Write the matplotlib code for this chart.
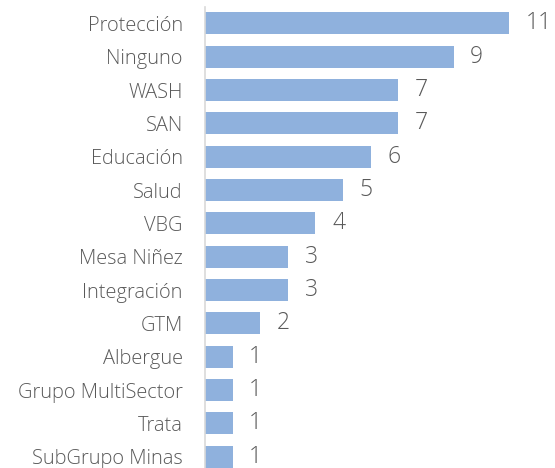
import matplotlib
matplotlib.use("Agg")
import matplotlib.pyplot as plt

categories = ["Protección", "Ninguno", "WASH", "SAN", "Educación", "Salud", "VBG",
              "Mesa Niñez", "Integración", "GTM", "Albergue", "Grupo MultiSector",
              "Trata", "SubGrupo Minas"]
values = [11, 9, 7, 7, 6, 5, 4, 3, 3, 2, 1, 1, 1, 1]

plt.rcParams['font.family'] = ['Open Sans', 'DejaVu Sans']
text_color = "#595959"
bar_color = "#8FB1DD"

fig = plt.figure(figsize=(5.55, 4.68), dpi=100)
ax = fig.add_axes([0.3694, -0.0115, 0.597, 0.997])

y = list(range(len(categories)))
ax.barh(y, values, height=0.66, color=bar_color, edgecolor="none")
ax.set_ylim(len(categories) - 0.5, -0.5)
ax.set_xlim(0, 12)
ax.set_yticks(y)
ax.set_yticklabels(categories, fontsize=14.4, color=text_color, fontweight="light")
ax.tick_params(axis='y', length=0, pad=16)
ax.set_xticks([])
for s in ["top", "right", "bottom"]:
    ax.spines[s].set_visible(False)
ax.spines["left"].set_color("#D9D9D9")
ax.spines["left"].set_linewidth(1.2)

for yi, v in zip(y, values):
    ax.annotate(str(v), (v, yi), xytext=(12, 0), textcoords="offset points",
                va="center", ha="left", fontsize=16.5, color=text_color,
                fontweight="light")

fig.savefig("out.png", dpi=100)
